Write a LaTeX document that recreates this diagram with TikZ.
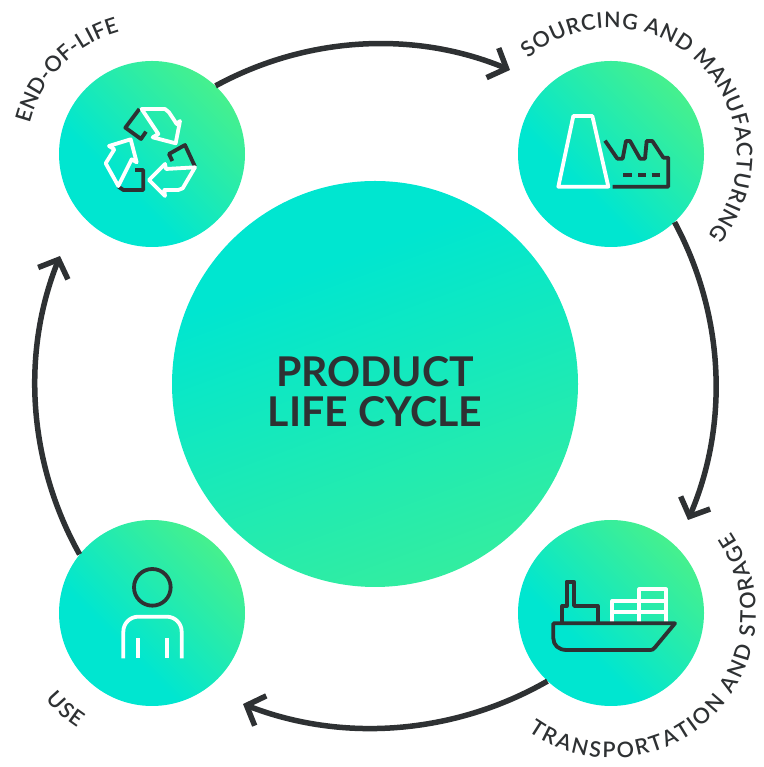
\documentclass[tikz,border=0pt]{standalone}
\usepackage{fontspec}
\usepackage{xcolor}
\setmainfont{Lato}
\newfontfamily\ringfamily{Lato Semibold}
\usetikzlibrary{arrows.meta,decorations.text}
\definecolor{inkc}{HTML}{2E3133}
\definecolor{tealc}{HTML}{00E6D0}
\definecolor{greenc}{HTML}{46F08E}
\pgfdeclareverticalshading{smallshade}{100bp}{color(0bp)=(tealc); color(38bp)=(tealc); color(75bp)=(greenc); color(100bp)=(greenc)}
\pgfdeclareverticalshading{mainshade}{100bp}{color(0bp)=(tealc); color(34bp)=(tealc); color(75bp)=(greenc!72!tealc); color(100bp)=(greenc!72!tealc)}
\newcommand{\ringfont}{\ringfamily\fontsize{21.5}{21.5}\selectfont}
\tikzset{
	stagecircle/.style={circle,inner sep=0pt,minimum size=186pt,shading=smallshade,shading angle=-45},
	ringline/.style={line width=5.5pt,color=inkc},
	ringlabel/.style={decorate,decoration={text along path,text align=fit to path,text color=inkc,text={|\ringfont|#1}}},
	icondark/.style={line width=3.8pt,color=inkc,line join=round},
	iconlight/.style={line width=3.8pt,color=white,line join=round},
}

\begin{document}
\begin{tikzpicture}[x=1pt,y=1pt]
	\useasboundingbox (0,0) rectangle (763,767);
	%
	\node[circle,inner sep=0pt,minimum size=406pt,shading=mainshade,shading angle=-160] (P) at (375,383) {};
	\node[font=\fontsize{41}{40}\selectfont\bfseries,color=inkc,align=center] (title) at (375,375) {PRODUCT\\LIFE CYCLE};
	%
	\node[stagecircle] (E) at (152,613) {};
	\node[stagecircle] (S) at (611,613) {};
	\node[stagecircle] (T) at (611,154) {};
	\node[stagecircle] (U) at (152,154) {};
	%
	\coordinate (tipS) at (510,697);
	\coordinate (tipT) at (688,247);
	\coordinate (tipU) at (243,63);
	\coordinate (tipE) at (60,511);
	%
	\path[-{Straight Barb[length=15pt,width=32pt,line join=miter]},ringline]
	(E.47) edge[bend left=25.5,looseness=.9] (tipS)
	(S.-47) edge[bend left=25.7,looseness=.9] (tipT)
	(T.227) edge[bend left=25.5,looseness=.9] (tipU)
	(U.141) edge[bend left=25.5,looseness=.9] (tipE);
	%
	% labels round the circles
	\path[ringlabel={END-OF-LIFE}] (E) ++(166:126) arc[start angle=166,end angle=105,radius=126];
	\path[ringlabel={SOURCING AND MANUFACTURING}] (S) ++(131:126) arc[start angle=131,end angle=-40,radius=126];
	\path[ringlabel={TRANSPORTATION AND STORAGE}] (T) ++(235:145) arc[start angle=235,end angle=394,radius=145];
	\path[ringlabel={USE}] (U) ++(219:137) arc[start angle=219,end angle=237,radius=137];
	%
	% recycling icon
	\begin{scope}[shift={(60,707)},x=1/3*1pt,y=-1/3*1pt]
		\draw[icondark] (238,147) -- (196,203) -- (243,237) -- (258,215);
		\draw[icondark] (337,303) -- (327,282) -- (375,255) -- (405,320);
		\draw[icondark] (225,330) -- (250,330) -- (250,390) -- (190,390) -- (175,380);
		\draw[iconlight] (245,147) -- (315,147) -- (327,157) -- (350,192) -- (360,183) -- (347,250) -- (278,232) -- (295,222) -- cycle;
		\draw[iconlight] (405,322) -- (318,327) -- (315,312) -- (267,360) -- (315,408) -- (313,390) -- (355,390) -- (368,385) -- cycle;
		\draw[iconlight] (175,378) -- (215,298) -- (230,307) -- (212,238) -- (147,258) -- (163,268) -- (137,310) -- cycle;
	\end{scope}
	%
	% factory icon
	\begin{scope}[shift={(520,707)},x=1/3*1pt,y=-1/3*1pt]
		\draw[iconlight] (160,168) -- (217,168) -- (265,380) -- (115,380) -- cycle;
		\draw[icondark] (255,242) -- (292,296) -- (308,296) -- (318,243) -- (330,243) -- (360,296) -- (375,296) -- (380,243) -- (397,243) -- (430,293) -- (445,293) -- (445,380) -- (278,380);
		\draw[icondark] (310,345) -- (335,345) (355,345) -- (378,345) (395,345) -- (420,345);
	\end{scope}
	%
	% ship icon
	\begin{scope}[shift={(520,247)},x=1/3*1pt,y=-1/3*1pt]
		\draw[iconlight] (277,305) -- (277,243) -- (358,243) (358,305) -- (358,208) -- (438,208) -- (438,305) (277,275) -- (438,275) (358,243) -- (438,243);
		\draw[icondark] (127,305) -- (127,258) -- (140,258) -- (140,185) -- (162,185) -- (162,258) -- (233,258) -- (233,305);
		\draw[icondark] (100,310) -- (465,310) -- (405,382) .. controls (400,388) and (397,390) .. (392,390) -- (140,390) .. controls (115,390) and (100,375) .. (100,355) -- cycle;
	\end{scope}
	%
	% person icon
	\begin{scope}[shift={(60,247)},x=1/3*1pt,y=-1/3*1pt]
		\draw[icondark] (277,202) circle[radius=55];
		\draw[iconlight] (190,415) -- (190,335) .. controls (190,310) and (210,290) .. (235,290) -- (320,290) .. controls (345,290) and (365,310) .. (365,335) -- (365,415);
		\draw[iconlight] (234,355) -- (234,415) (320,355) -- (320,415);
	\end{scope}
\end{tikzpicture}
\end{document}
